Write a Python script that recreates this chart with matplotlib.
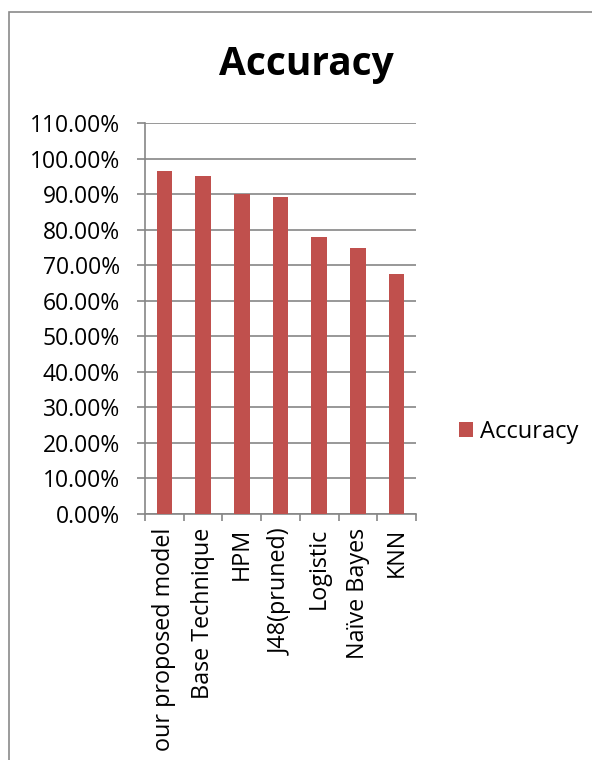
import matplotlib.pyplot as plt
from matplotlib.patches import Rectangle
from matplotlib.ticker import FuncFormatter, MultipleLocator

models = ['our proposed model', 'Base Technique', 'HPM', 'J48(pruned)',
          'Logistic', 'Naïve Bayes', 'KNN']
accuracy = [96.6, 95.3, 90.0, 89.25, 78.1, 74.8, 67.5]

plt.rcParams['font.family'] = ['Open Sans', 'DejaVu Sans']

fig = plt.figure(figsize=(5.92, 7.6), dpi=100)
# chart frame (Excel chart area border)
fig.patches.append(Rectangle((9 / 592, -0.1), 1.2, 1 - 11.5 / 760 + 0.1,
                             transform=fig.transFigure, fill=False,
                             edgecolor='#8a8a8a', linewidth=1.2))

ax = fig.add_axes([145 / 592, 1 - 514 / 760, 271 / 592, 390.7 / 760])
x = range(len(models))
bars = ax.bar(x, accuracy, width=0.4, color='#C0504D', label='Accuracy', zorder=3)

ax.set_ylim(0, 110)
ax.set_xlim(-0.5, len(models) - 0.5)
ax.yaxis.set_major_locator(MultipleLocator(10))
ax.yaxis.set_major_formatter(FuncFormatter(lambda v, p: f'{v:.2f}%'))
ax.grid(axis='y', color='#868686', linewidth=1.2, zorder=0)

ax.set_xticks(list(x))
ax.set_xticklabels(models, rotation=90, va='top', ha='center')
ax.set_xticks([i - 0.5 for i in range(len(models) + 1)], minor=True)
ax.tick_params(axis='x', which='major', length=0, pad=10, labelsize=16.8)
ax.tick_params(axis='x', which='minor', length=5, width=1.2, color='#868686')
ax.tick_params(axis='y', length=6, width=1.2, color='#868686', labelsize=16.5, pad=12)

for side in ['top', 'right']:
    ax.spines[side].set_visible(False)
for side in ['left', 'bottom']:
    ax.spines[side].set_color('#868686')
    ax.spines[side].set_linewidth(1.2)

fig.text(306 / 592, 1 - 64 / 760, 'Accuracy', ha='center', va='center',
         fontsize=28, fontweight='bold')

fig.legend(handles=[bars], labels=['Accuracy'], loc='center left',
           bbox_to_anchor=(459 / 592, 1 - 432 / 760), frameon=False, borderpad=0,
           borderaxespad=0, fontsize=17, handlelength=0.6, handleheight=0.6,
           handletextpad=0.3)

fig.savefig('out.png', dpi=100)
